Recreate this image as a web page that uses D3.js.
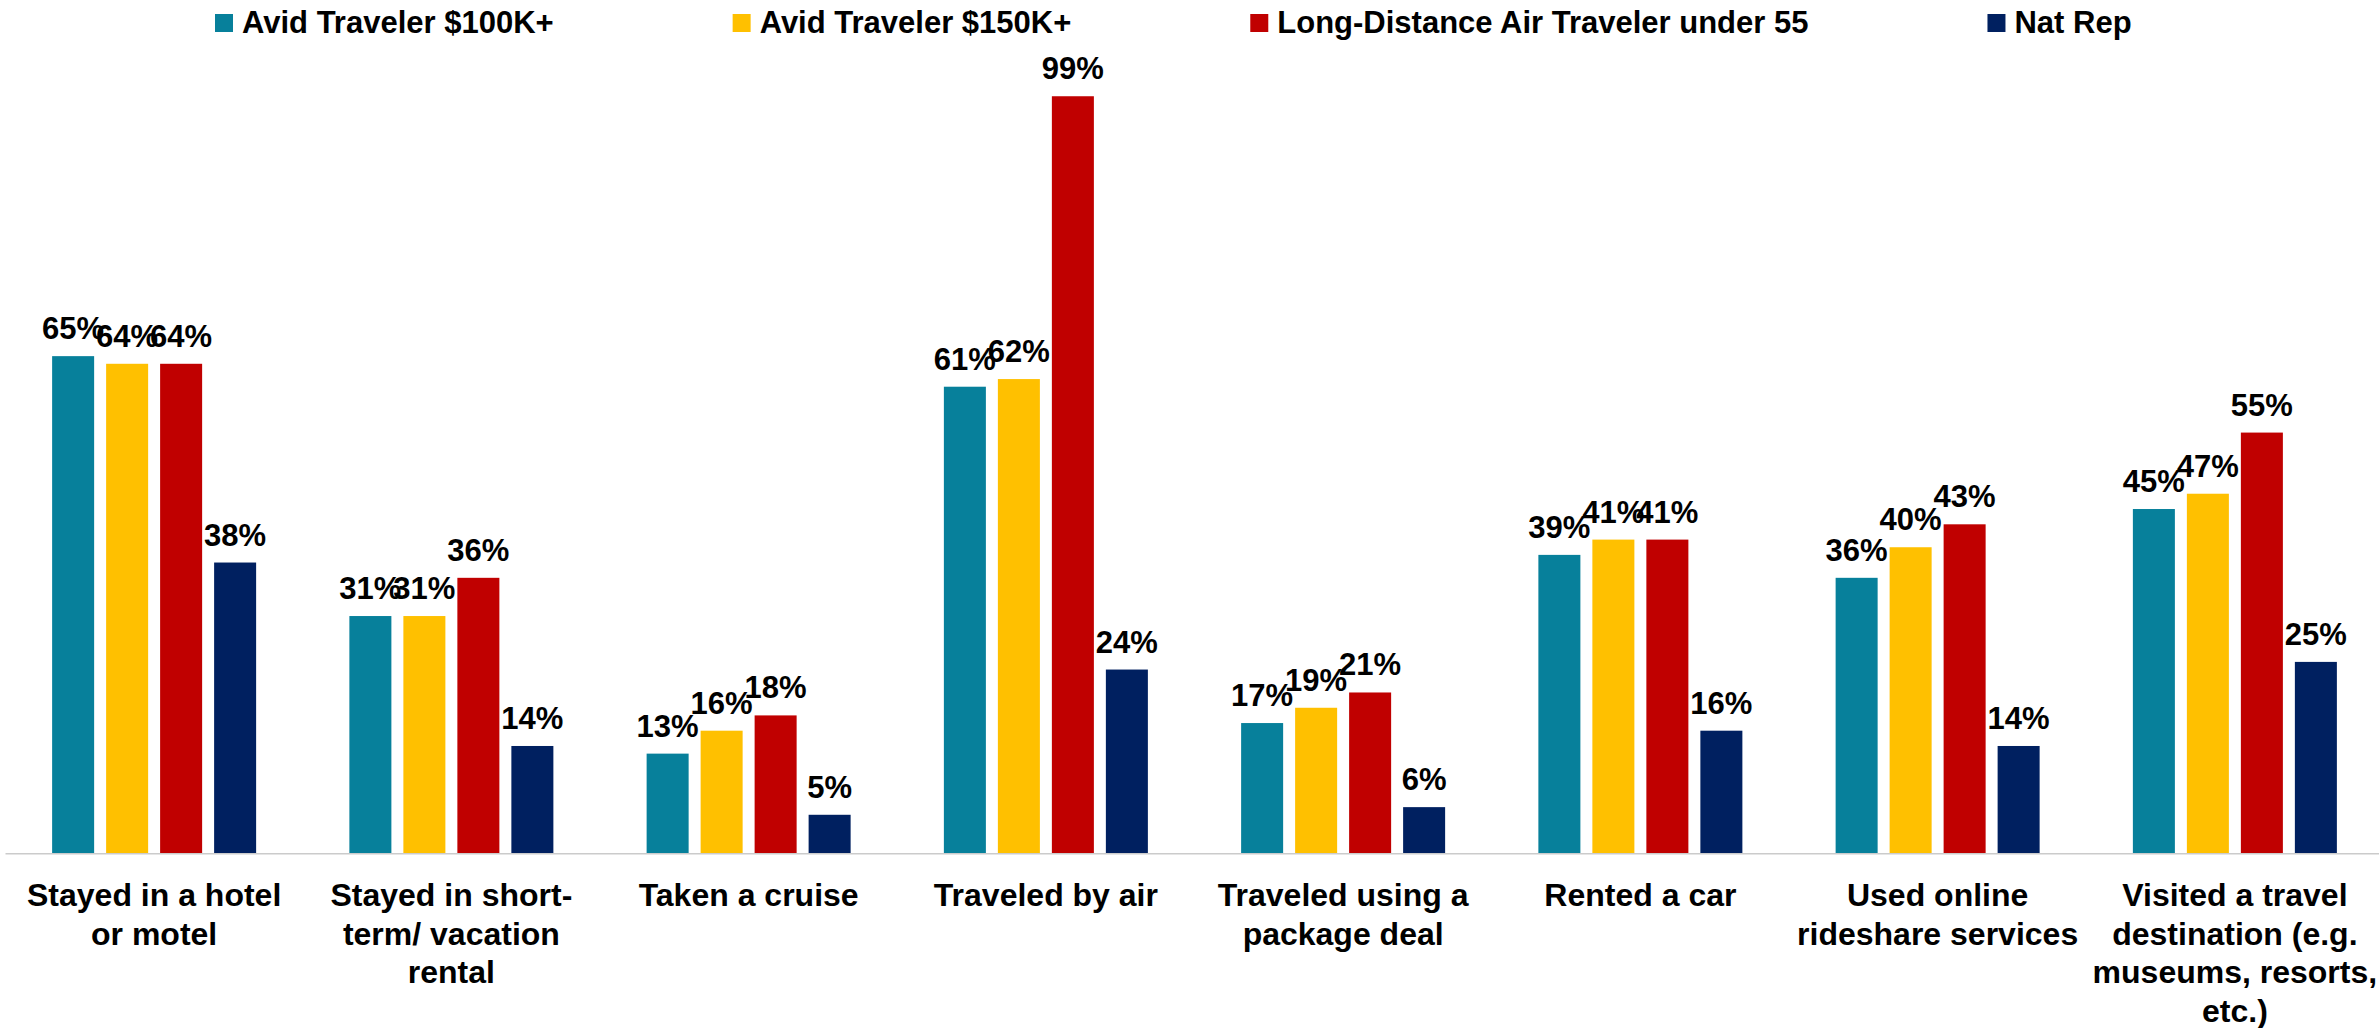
<!DOCTYPE html>
<html>
<head>
<meta charset="utf-8">
<script src="https://cdn.jsdelivr.net/npm/d3@7"></script>
<style>
  html, body { margin: 0; padding: 0; background: #ffffff; }
  svg { display: block; }
  text { font-family: "Liberation Sans", Arial, sans-serif; font-weight: bold; fill: #000000; }
</style>
</head>
<body>
<svg id="chart" width="2379" height="1028"></svg>
<script>
// Travel activities by audience segment (% who have done each)
const categories = [
  ["Stayed in a hotel", "or motel"],
  ["Stayed in short-", "term/ vacation", "rental"],
  ["Taken a cruise"],
  ["Traveled by air"],
  ["Traveled using a", "package deal"],
  ["Rented a car"],
  ["Used online", "rideshare services"],
  ["Visited a travel", "destination (e.g.", "museums, resorts,", "etc.)"]
];
const seriesNames = [
  "Avid Traveler $100K+",
  "Avid Traveler $150K+",
  "Long-Distance Air Traveler under 55",
  "Nat Rep"
];
const seriesColors = ["#07809B", "#FFC000", "#C00000", "#002060"];

const avid100 = [65, 31, 13, 61, 17, 39, 36, 45];
const avid150 = [64, 31, 16, 62, 19, 41, 40, 47];
const longDistance = [64, 36, 18, 99, 21, 41, 43, 55];
const natRep = [38, 14, 5, 24, 6, 16, 14, 25];
const seriesValues = [avid100, avid150, longDistance, natRep];

const svg = d3.select("#chart");

const baseY = 853;
const x0 = d3.scaleBand()
  .domain(d3.range(categories.length))
  .range([5.5, 2383.5])
  .paddingInner(0.3137)
  .paddingOuter(0.3137 / 2);

const x1 = d3.scaleBand()
  .domain(d3.range(seriesNames.length))
  .range([0, x0.bandwidth()])
  .paddingInner(0.222);

const y = d3.scaleLinear().domain([0, 100]).range([baseY, 88.6]);

// Category axis line
svg.append("line")
  .attr("x1", 5.5).attr("x2", 2379)
  .attr("y1", baseY + 0.75).attr("y2", baseY + 0.75)
  .attr("stroke", "#cbcbcb").attr("stroke-width", 1.5);

// Bars and value labels
const groups = svg.selectAll("g.cat")
  .data(categories)
  .join("g")
  .attr("class", "cat")
  .attr("transform", (d, i) => `translate(${x0(i)},0)`);

groups.each(function (d, ci) {
  const g = d3.select(this);
  const rows = seriesValues.map((vals, si) => ({ si, v: vals[ci] }));
  g.selectAll("rect")
    .data(rows)
    .join("rect")
    .attr("x", r => x1(r.si))
    .attr("width", x1.bandwidth())
    .attr("y", r => y(r.v))
    .attr("height", r => baseY - y(r.v))
    .attr("fill", r => seriesColors[r.si]);
  g.selectAll("text.val")
    .data(rows)
    .join("text")
    .attr("class", "val")
    .attr("x", r => x1(r.si) + x1.bandwidth() / 2)
    .attr("y", r => y(r.v) - 17)
    .attr("text-anchor", "middle")
    .style("font-size", "31px")
    .text(r => r.v + "%");
});

// Category labels
const catLabels = svg.selectAll("text.catlabel")
  .data(categories)
  .join("text")
  .attr("class", "catlabel")
  .attr("text-anchor", "middle")
  .style("font-size", "32px")
  .attr("transform", (d, i) => `translate(${x0(i) + x0.bandwidth() / 2},906)`);

catLabels.selectAll("tspan")
  .data(d => d)
  .join("tspan")
  .attr("x", 0)
  .attr("y", (d, i) => i * 38.5)
  .text(d => d);

// Legend
const legend = svg.append("g").attr("class", "legend");
let lx = 215;
seriesNames.forEach((name, i) => {
  legend.append("rect")
    .attr("x", lx).attr("y", 14)
    .attr("width", 18).attr("height", 18)
    .attr("fill", seriesColors[i]);
  const t = legend.append("text")
    .attr("x", lx + 27).attr("y", 33)
    .style("font-size", "31px")
    .text(name);
  lx = lx + 27 + t.node().getComputedTextLength() + 179;
});
</script>
</body>
</html>
